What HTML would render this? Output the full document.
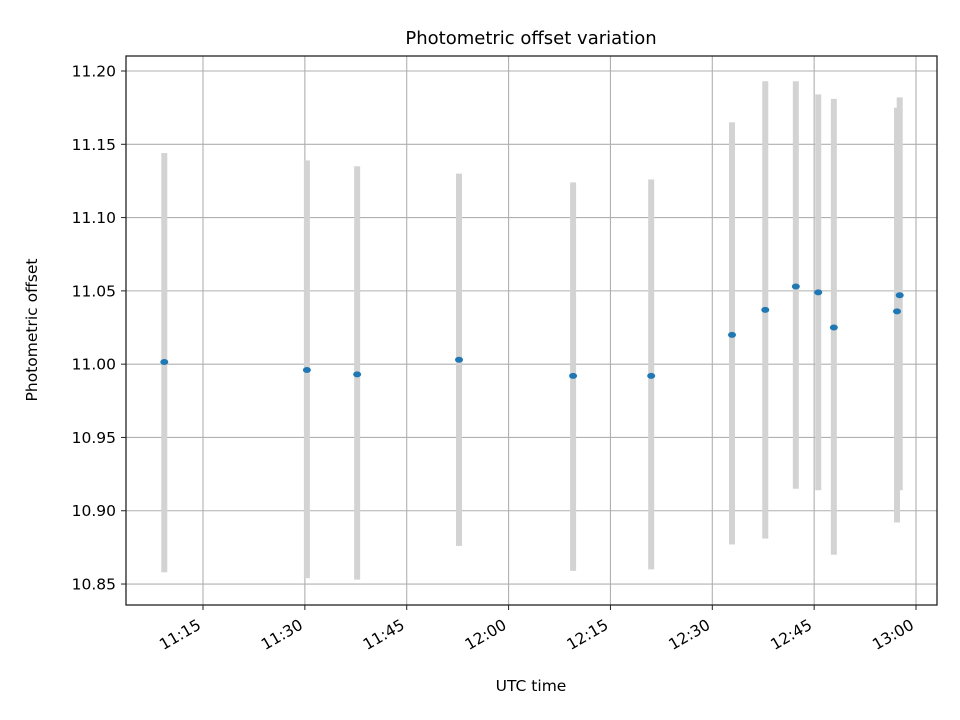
<!DOCTYPE html>
<html><head><meta charset="utf-8"><style>
body{margin:0;background:#fff}
svg{display:block;font-family:"DejaVu Sans","Liberation Sans",sans-serif}
</style></head><body>
<svg id="chart" width="960" height="720" viewBox="0 0 960 720">
<rect width="960" height="720" fill="#fff"/>
<text x="531" y="44" text-anchor="middle" font-size="18" fill="#000">Photometric offset variation</text>
<g id="grid"></g><g id="bars"></g><g id="pts"></g><g id="xticks"></g><g id="yticks"></g>
<rect x="126" y="56" width="811" height="549" fill="none" stroke="#222" stroke-width="1.3"/>
<text x="531" y="691" text-anchor="middle" font-size="15.5">UTC time</text>
<text transform="translate(37,330) rotate(-90)" text-anchor="middle" font-size="15.5">Photometric offset</text>
</svg>
<script>
// minutes after 11:00
const times=[9.3,30.3,37.7,52.7,69.5,81.0,92.9,97.8,102.3,105.6,107.9,117.2,117.6];
const values=[11.0015,10.996,10.993,11.003,10.992,10.992,11.020,11.037,11.053,11.049,11.025,11.036,11.047];
const upper=[11.144,11.139,11.135,11.130,11.124,11.126,11.165,11.193,11.193,11.184,11.181,11.175,11.182];
const lower=[10.858,10.854,10.853,10.876,10.859,10.860,10.877,10.881,10.915,10.914,10.870,10.892,10.914];
const xTickLabels=["11:15","11:30","11:45","12:00","12:15","12:30","12:45","13:00"];
const xTickMinutes=[15,30,45,60,75,90,105,120];
const yTicks=[10.85,10.90,10.95,11.00,11.05,11.10,11.15,11.20];
const NS="http://www.w3.org/2000/svg";
const X=m=>203+(m-15)*(101.86/15);
const Y=v=>71+(11.20-v)/0.05*73.29;
function mk(t,a,p){const e=document.createElementNS(NS,t);for(const k in a)e.setAttribute(k,a[k]);p.appendChild(e);return e;}
const grid=document.getElementById('grid'),xt=document.getElementById('xticks'),yt=document.getElementById('yticks');
xTickMinutes.forEach((m,i)=>{const x=X(m);
 const g=mk('line',{x1:x,x2:x,y1:56,y2:605,stroke:'#b0b0b0','stroke-width':1.1},grid);
 
 
 const tk=mk('line',{x1:x,x2:x,y1:605,y2:610,stroke:'#222','stroke-width':1},xt);
 
 
 const t=mk('text',{transform:`translate(${x-1},${628}) rotate(-30)`,'text-anchor':'end','font-size':15.5},xt);
 
 
 t.textContent=xTickLabels[i];
});
yTicks.forEach(v=>{const y=Y(v);
 const g=mk('line',{x1:126,x2:937,y1:y,y2:y,stroke:'#b0b0b0','stroke-width':1.1},grid);
 
 
 const tk=mk('line',{x1:121,x2:126,y1:y,y2:y,stroke:'#222','stroke-width':1},yt);
 
 
 const t=mk('text',{x:116,y:y+5.5,'text-anchor':'end','font-size':15.5},yt);
 
 
 t.textContent=v.toFixed(2);
});
const bars=document.getElementById('bars'),pts=document.getElementById('pts');
times.forEach((m,i)=>{const x=X(m);
 const b=mk('rect',{x:x-3,y:Y(upper[i]),width:6,height:Y(lower[i])-Y(upper[i]),fill:'#d3d3d3'},bars);
 
 
 const p=mk('ellipse',{cx:x,cy:Y(values[i]),rx:4,ry:3,fill:'#1f77b4'},pts);
 
 
});
</script>
</body></html>
